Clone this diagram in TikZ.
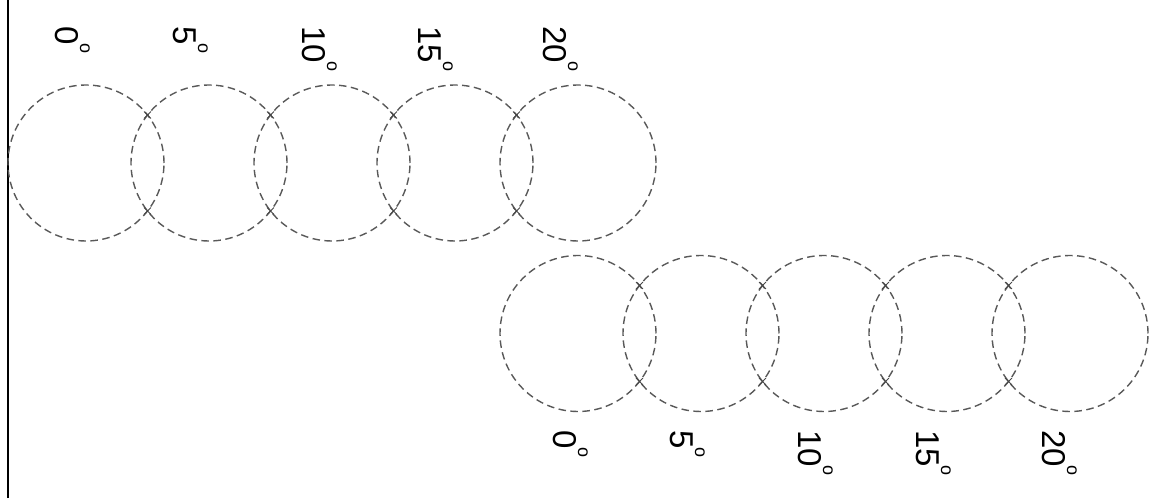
\documentclass[tikz,border=0pt]{standalone}
\usepackage{fontspec}
\setmainfont{Liberation Sans}
\usetikzlibrary{shapes.misc}
\newcommand{\dg}{\kern-1.5pt\raisebox{25pt}{\fontsize{18}{18}\selectfont o}}
\begin{document}
\begin{tikzpicture}[x=1pt,y=1pt,
  ring/.style={circle,draw=black!65,line width=1.4pt,dash pattern=on 7.5pt off 4.5pt,minimum size=156pt,inner sep=0pt},
  xmark/.style={cross out,draw=black!72,line width=0.9pt,minimum size=6pt,inner sep=0pt},
  anglab/.style={rotate=-90,anchor=base west,inner sep=0pt,font=\fontsize{33}{33}\selectfont}]
\useasboundingbox (0,0) rectangle (1162,498);
\draw[line width=2.4pt] (8,0) coordinate (lb) -- (8,498) coordinate (lt);
\foreach \i in {0,...,4}{
  \node[ring] (t\i) at ({86+123*\i},335) {};
}
\foreach \i in {0,...,4}{
  \node[ring] (b\i) at ({578+123*\i},164.5) {};
}
\foreach \i in {1,...,4}{
  \node[xmark] (tu\i) at ({86+123*\i-61.5},{335+48}) {};
  \node[xmark] (td\i) at ({86+123*\i-61.5},{335-48}) {};
  \node[xmark] (bu\i) at ({578+123*\i-61.5},{164.5+48}) {};
  \node[xmark] (bd\i) at ({578+123*\i-61.5},{164.5-48}) {};
}
\node[anglab] (l0) at (55,472) {0\dg};
\node[anglab] (l1) at (173,472) {5\dg};
\node[anglab] (l2) at (302,472) {10\dg};
\node[anglab] (l3) at (418,472) {15\dg};
\node[anglab] (l4) at (543,472) {20\dg};
\node[anglab] (m0) at (553,68) {0\dg};
\node[anglab] (m1) at (670,68) {5\dg};
\node[anglab] (m2) at (798,68) {10\dg};
\node[anglab] (m3) at (916,68) {15\dg};
\node[anglab] (m4) at (1042,68) {20\dg};
\end{tikzpicture}
\end{document}
